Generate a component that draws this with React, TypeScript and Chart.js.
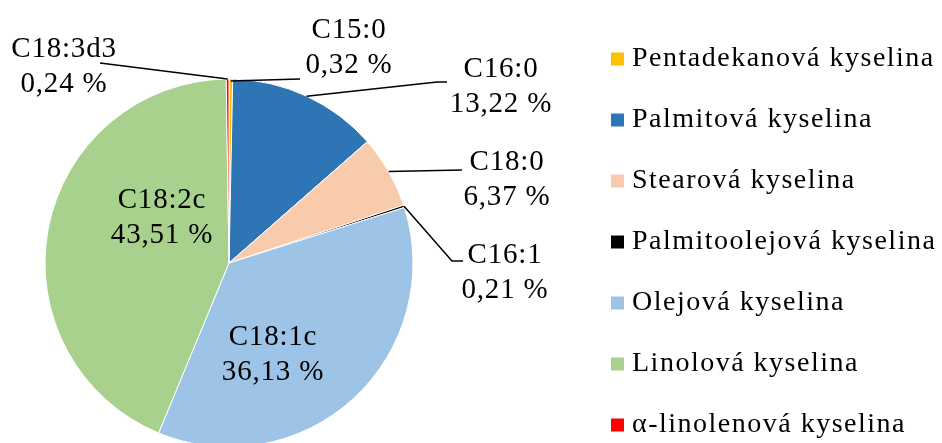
import React, { useEffect, useRef } from "react";
import { Chart, registerables } from "chart.js";

Chart.register(...registerables);

// ---- data ----
const categories = ["C15:0", "C16:0", "C18:0", "C16:1", "C18:1c", "C18:2c", "C18:3d3"];
const legendNames = [
  "Pentadekanová kyselina",
  "Palmitová kyselina",
  "Stearová kyselina",
  "Palmitoolejová kyselina",
  "Olejová kyselina",
  "Linolová kyselina",
  "α-linolenová kyselina",
];
const values = [0.32, 13.22, 6.37, 0.21, 36.13, 43.51, 0.24];
const valueLabels = ["0,32 %", "13,22 %", "6,37 %", "0,21 %", "36,13 %", "43,51 %", "0,24 %"];
const colors = ["#FFC000", "#2E75B6", "#F8CBAD", "#000000", "#9DC3E6", "#A9D18E", "#FF0000"];

// ---- label layout (offsets from the pie centre, px) ----
const labelLayout = [
  { dx: 120, dy: -225, inset: 2, leader: [[71, -184]] },
  { dx: 272, dy: -186, inset: 0, leader: [[208, -181], [218, -181]] },
  { dx: 278, dy: -93, inset: 0, leader: [[233, -93]] },
  { dx: 276, dy: 0, inset: 0, leader: [[223, -2], [234, -2]] },
  { dx: 44, dy: 82, inset: 0, leader: null },
  { dx: -67, dy: -55, inset: 0, leader: null },
  { dx: -165, dy: -206, inset: 0, leader: [[-129, -200]] },
];

const FONT = '"Liberation Serif", "Times New Roman", serif';

const spacingPlugin = {
  id: "spacing",
  beforeLayout(chart: any) {
    chart.ctx.letterSpacing = "1.5px";
  },
  beforeDraw(chart: any) {
    chart.ctx.letterSpacing = "1.5px";
  },
};

const labelPlugin = {
  id: "sliceLabels",
  afterDatasetsDraw(chart: any) {
    const meta = chart.getDatasetMeta(0);
    const ctx = chart.ctx;
    ctx.save();
    ctx.letterSpacing = "0.8px";
    ctx.font = `29px ${FONT}`;
    ctx.fillStyle = "#000";
    ctx.textAlign = "center";
    ctx.textBaseline = "alphabetic";
    meta.data.forEach((arc: any, i: number) => {
      const p = arc.getProps(["x", "y", "startAngle", "endAngle", "outerRadius"], true);
      const lay = labelLayout[i];
      if (lay.leader) {
        const mid = (p.startAngle + p.endAngle) / 2;
        const r = p.outerRadius - lay.inset;
        ctx.beginPath();
        ctx.moveTo(p.x + Math.cos(mid) * r, p.y + Math.sin(mid) * r);
        lay.leader.forEach(([dx, dy]) => ctx.lineTo(p.x + dx, p.y + dy));
        ctx.strokeStyle = "#000";
        ctx.lineWidth = 1.5;
        ctx.stroke();
      }
      ctx.fillText(categories[i], p.x + lay.dx, p.y + lay.dy);
      ctx.fillText(valueLabels[i], p.x + lay.dx, p.y + lay.dy + 35);
    });
    ctx.restore();
  },
};

export default function App() {
  const ref = useRef<HTMLCanvasElement | null>(null);
  useEffect(() => {
    if (!ref.current) return;
    const chart = new Chart(ref.current, {
      type: "pie",
      data: {
        labels: legendNames,
        datasets: [
          {
            data: values,
            backgroundColor: colors,
            borderColor: "#ffffff",
            borderWidth: 1,
          },
        ],
      },
      options: {
        animation: false,
        responsive: true,
        maintainAspectRatio: false,
        radius: 184,
        layout: { padding: { top: 12, bottom: 12, left: 0, right: 0 } },
        plugins: {
          tooltip: { enabled: false },
          legend: {
            position: "right",
            align: "start",
            maxWidth: 360,
            labels: {
              color: "#000",
              font: { family: FONT, size: 28 },
              padding: 33,
              boxWidth: 1,
              boxHeight: 14,
              usePointStyle: true,
              pointStyle: "rect",
            },
          },
        },
      } as any,
      plugins: [spacingPlugin, labelPlugin],
    });
    return () => chart.destroy();
  }, []);
  return (
    <div
      style={{
        position: "fixed",
        left: 0,
        top: 0,
        width: 942,
        height: 443,
        overflow: "hidden",
        background: "#fff",
      }}
    >
      <div style={{ position: "absolute", left: -126, top: 0, width: 1070, height: 526 }}>
        <canvas ref={ref} />
      </div>
    </div>
  );
}
